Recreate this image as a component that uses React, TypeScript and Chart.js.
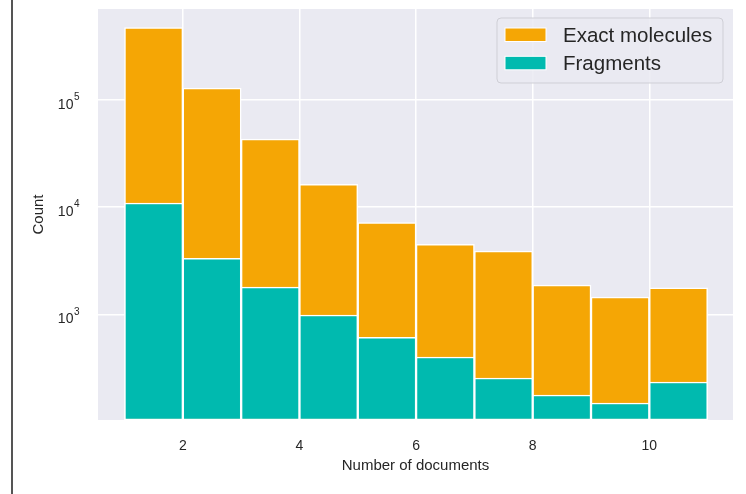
import React, { useEffect, useRef } from "react";
import { Chart, registerables } from "chart.js";

Chart.register(...registerables);

const binStarts = [1, 2, 3, 4, 5, 6, 7, 8, 9, 10];
const exactMolecules = [469000, 128000, 43000, 16300, 7140, 4490, 3890, 1870, 1450, 1760];
const fragments = [10900, 3330, 1790, 985, 611, 400, 255, 177, 149, 234];
const xTicks = [2, 4, 6, 8, 10];
const yTicks = [1000, 10000, 100000];
const yTickBase = "10";
const yTickExponents = ["3", "4", "5"];
const seriesLabels = ["Exact molecules", "Fragments"];
const seriesColors = ["#F5A605", "#00BAAF"];

const FONT = "'Liberation Sans', Arial, sans-serif";
const TEXT = "#262626";

const bgPlugin = {
  id: "bg",
  beforeDraw(chart: any) {
    const { ctx, chartArea: a } = chart;
    ctx.save();
    ctx.fillStyle = "#EAEAF2";
    ctx.fillRect(a.left, a.top, a.right - a.left, a.bottom - a.top);
    ctx.restore();
  },
  afterDraw(chart: any) {
    const { ctx } = chart;
    ctx.save();
    ctx.fillStyle = "#555555";
    ctx.fillRect(11, 0, 2, chart.height);
    // y tick labels with superscript exponents
    const ys = chart.scales.y;
    yTicks.forEach((v, i) => {
      const py = ys.getPixelForValue(v);
      ctx.fillStyle = TEXT;
      ctx.textBaseline = "alphabetic";
      ctx.font = `10px ${FONT}`;
      ctx.textAlign = "right";
      ctx.fillText(yTickExponents[i], 79.5, py + 0.5);
      const ew = ctx.measureText(yTickExponents[i]).width;
      ctx.font = `14px ${FONT}`;
      ctx.fillText(yTickBase, 79.5 - ew - 0.5, py + 9);
    });
    ctx.restore();
  },
};

const legendPlugin = {
  id: "innerLegend",
  afterDatasetsDraw(chart: any) {
    const { ctx } = chart;
    const x = 497, y = 18, w = 226, h = 65, r = 4;
    ctx.save();
    ctx.beginPath();
    ctx.moveTo(x + r, y);
    ctx.lineTo(x + w - r, y);
    ctx.quadraticCurveTo(x + w, y, x + w, y + r);
    ctx.lineTo(x + w, y + h - r);
    ctx.quadraticCurveTo(x + w, y + h, x + w - r, y + h);
    ctx.lineTo(x + r, y + h);
    ctx.quadraticCurveTo(x, y + h, x, y + h - r);
    ctx.lineTo(x, y + r);
    ctx.quadraticCurveTo(x, y, x + r, y);
    ctx.closePath();
    ctx.fillStyle = "rgba(234,234,242,0.85)";
    ctx.fill();
    ctx.strokeStyle = "#CFCFD6";
    ctx.lineWidth = 1;
    ctx.stroke();
    seriesLabels.forEach((label, i) => {
      const py = 28 + i * 28.3;
      ctx.fillStyle = seriesColors[i];
      ctx.fillRect(505, py, 41, 13.5);
      ctx.strokeStyle = "#ffffff";
      ctx.lineWidth = 1;
      ctx.strokeRect(505, py, 41, 13.5);
      ctx.fillStyle = TEXT;
      ctx.font = `20.5px ${FONT}`;
      ctx.textBaseline = "alphabetic";
      ctx.textAlign = "left";
      ctx.fillText(label, 563, 41.7 + i * 28.3);
    });
    ctx.restore();
  },
};

export default function App() {
  const ref = useRef<HTMLCanvasElement>(null);
  useEffect(() => {
    if (!ref.current) return;
    const mk = (vals: number[]) => binStarts.map((b, i) => ({ x: b + 0.5, y: vals[i] }));
    const ds = (i: number, vals: number[], order: number) =>
      ({
        label: seriesLabels[i],
        data: mk(vals),
        backgroundColor: seriesColors[i],
        borderColor: "#ffffff",
        borderWidth: 1.5,
        borderSkipped: false,
        grouped: false,
        order,
        barPercentage: 1,
        categoryPercentage: 1,
      }) as any;
    const chart = new Chart(ref.current, {
      type: "bar",
      data: {
        datasets: [ds(0, exactMolecules, 1), ds(1, fragments, 0)],
      },
      options: {
        animation: false,
        responsive: false,
        layout: { padding: { left: 0, top: 9, right: 13, bottom: 0 } },
        plugins: { legend: { display: false }, tooltip: { enabled: false } },
        scales: {
          x: {
            type: "linear",
            min: 0.545,
            max: 11.435,
            offset: false,
            grid: { color: "#ffffff", lineWidth: 1.5, drawTicks: false, offset: false },
            border: { display: false },
            ticks: { color: TEXT, font: { family: FONT, size: 14 }, padding: 18, maxRotation: 0 },
            title: {
              display: true,
              text: "Number of documents",
              color: TEXT,
              font: { family: FONT, size: 15 },
              padding: { top: 0, bottom: 19 },
            },
            afterBuildTicks: (s: any) => {
              s.ticks = xTicks.map((v) => ({ value: v }));
            },
            afterFit: (s: any) => {
              s.height = 74;
              s.paddingLeft = 0;
              s.paddingRight = 0;
            },
          } as any,
          y: {
            type: "logarithmic",
            min: 103.5,
            max: 700000,
            grid: { color: "#ffffff", lineWidth: 1.5, drawTicks: false },
            border: { display: false },
            ticks: { display: false },
            title: {
              display: true,
              text: "Count",
              color: TEXT,
              font: { family: FONT, size: 15 },
              padding: { top: 30, bottom: 0 },
            },
            afterBuildTicks: (s: any) => {
              s.ticks = yTicks.map((v) => ({ value: v }));
            },
            afterFit: (s: any) => {
              s.width = 98;
              s.paddingTop = 0;
              s.paddingBottom = 0;
            },
          } as any,
        },
      },
      plugins: [bgPlugin, legendPlugin],
    });
    return () => chart.destroy();
  }, []);
  return (
    <div style={{ position: "absolute", left: 0, top: 0, width: 746, height: 494, background: "#fff" }}>
      <canvas ref={ref} width={746} height={494} style={{ display: "block" }} />
    </div>
  );
}
